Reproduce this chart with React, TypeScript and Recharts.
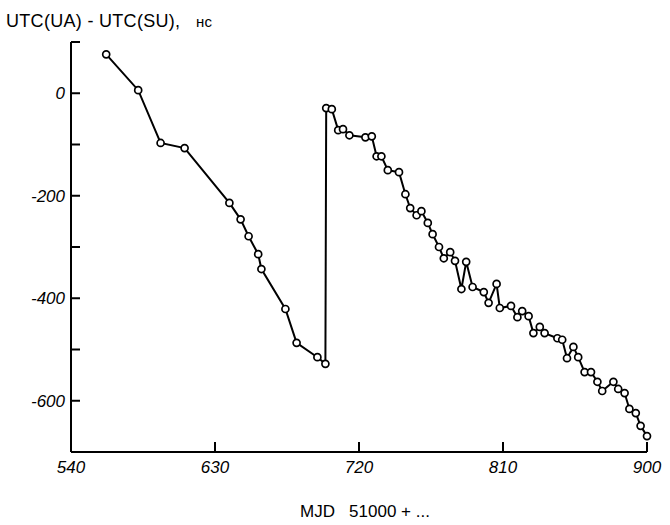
import { LineChart, Line, XAxis, YAxis } from "recharts";

// MJD - 51000
const mjd = [
  562, 582, 596, 611, 639, 646, 651, 657, 659, 674, 681, 694, 699,
  699.5, 703, 707, 710, 714, 724, 728, 731, 734, 738, 745, 749, 752, 756, 759,
  763, 766, 770, 773, 777, 780, 784, 787, 791, 798, 801, 806, 808, 815, 819,
  822, 826, 829, 833, 836, 844, 847, 850, 854, 857, 861, 865, 869, 872, 879,
  882, 886, 889, 893, 896, 900,
];

// UTC(UA) - UTC(SU), ns
const offsetNs = [
  76, 6, -97, -107, -214, -246, -279, -314, -343, -421, -487, -515, -528,
  -29, -31, -72, -70, -82, -86, -84, -123, -123, -150, -154, -197, -224, -238, -230,
  -253, -275, -300, -322, -310, -327, -382, -329, -378, -388, -409, -372, -419, -415, -437,
  -425, -435, -468, -456, -468, -478, -481, -517, -495, -515, -544, -544, -563, -581, -563,
  -577, -585, -616, -624, -649, -669,
];

const xTicks = [540, 630, 720, 810, 900];
const yTicks = [-700, -600, -500, -400, -300, -200, -100, 0, 100];

const data = mjd.map((x, i) => ({ x, y: offsetNs[i] }));

const tickFont = {
  fill: "#000",
  fontSize: 17,
  fontStyle: "italic",
  fontFamily: "'Liberation Sans', Arial, sans-serif",
};

const App = () => {
  return (
    <div style={{ position: "absolute", left: 0, top: 0, width: 670, height: 525, background: "#fff" }}>
      <LineChart width={670} height={525} data={data} margin={{ top: 42, right: 23, bottom: 43, left: 0 }}>
        <XAxis
          type="number"
          dataKey="x"
          domain={[540, 900]}
          ticks={xTicks}
          height={30}
          tickSize={-10}
          tickMargin={19}
          axisLine={{ stroke: "#000", strokeWidth: 2 }}
          tickLine={{ stroke: "#000", strokeWidth: 2 }}
          tick={tickFont}
        />
        <YAxis
          type="number"
          dataKey="y"
          domain={[-700, 100]}
          ticks={yTicks}
          width={71}
          tickSize={-9}
          tickMargin={15}
          tickFormatter={(v: number) => (v % 200 === 0 && v <= 0 && v > -700 ? String(v) : "")}
          axisLine={{ stroke: "#000", strokeWidth: 2 }}
          tickLine={{ stroke: "#000", strokeWidth: 2 }}
          tick={tickFont}
        />
        <Line
          type="linear"
          dataKey="y"
          stroke="#000"
          strokeWidth={2}
          dot={{ r: 3.5, fill: "#fff", stroke: "#000", strokeWidth: 1.7 }}
          isAnimationActive={false}
        />
      </LineChart>
      <svg
        width={670}
        height={525}
        style={{ position: "absolute", left: 0, top: 0, pointerEvents: "none" }}
        fontFamily="'Liberation Sans', Arial, sans-serif"
      >
        <text x={6} y={27} fontSize={18} fill="#000" letterSpacing={0.3} xmlSpace="preserve">
          UTC(UA) - UTC(SU),
          <tspan x={196} fontSize={15}>нс</tspan>
        </text>
        <text x={300} y={517} fontSize={17} fill="#000" xmlSpace="preserve">
          {"MJD   51000 + ..."}
        </text>
      </svg>
    </div>
  );
};

export default App;
